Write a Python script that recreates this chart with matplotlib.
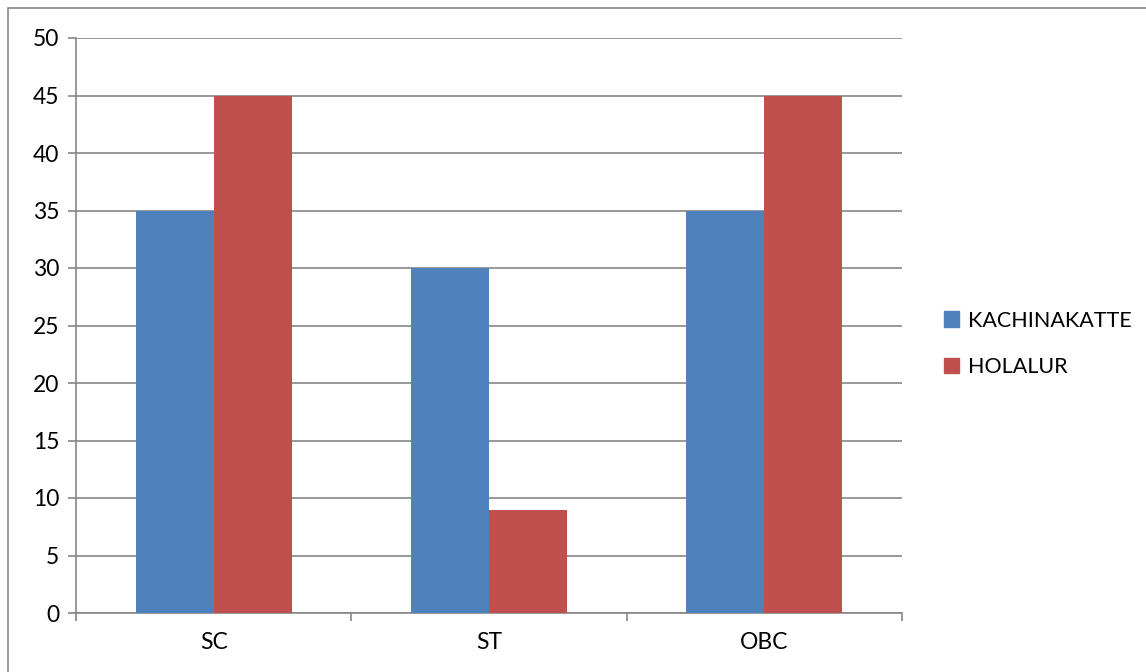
import matplotlib.pyplot as plt
import numpy as np
from matplotlib.patches import Rectangle, Patch

categories = ['SC', 'ST', 'OBC']
kachinakatte = [35, 30, 35]
holalur = [45, 9, 45]
series_names = ['KACHINAKATTE', 'HOLALUR']

blue = '#4F81BD'
red = '#C0504D'
grey = '#868686'

plt.rcParams['font.family'] = ['Lato', 'DejaVu Sans']

fig = plt.figure(figsize=(11.46, 6.72), dpi=100)
ax = fig.add_axes([76/1146, 1 - 613/672, (902 - 76)/1146, (613 - 38)/672])

x = np.arange(len(categories))
w = 0.283
ax.bar(x - w/2, kachinakatte, w, color=blue, zorder=3)
ax.bar(x + w/2, holalur, w, color=red, zorder=3)

ax.set_xlim(-0.5, 2.5)
ax.set_ylim(0, 50)
ax.set_yticks(np.arange(0, 51, 5))
ax.yaxis.grid(True, color=grey, linewidth=1.2, zorder=0)
ax.set_xticks(x)
ax.set_xticklabels(categories)
ax.set_xticks([-0.5, 0.5, 1.5, 2.5], minor=True)
ax.tick_params(axis='x', which='major', length=0, pad=14, labelsize=16.5)
ax.tick_params(axis='x', which='minor', length=6, color=grey, width=1.2)
ax.tick_params(axis='y', length=6, color=grey, width=1.2, pad=6, labelsize=16.5)
for side in ['top', 'right']:
    ax.spines[side].set_visible(False)
for side in ['left', 'bottom']:
    ax.spines[side].set_color(grey)
    ax.spines[side].set_linewidth(1.2)

handles = [Patch(color=blue), Patch(color=red)]
fig.legend(handles, series_names, loc='center left', bbox_to_anchor=(925/1146, 1 - 344/672),
           frameon=False, fontsize=15.5, handlelength=0.7, handleheight=0.7,
           handletextpad=0.4, labelspacing=1.25)

fig.patches.append(Rectangle((8/1146, -0.1), 1.2, 1 - 8/672 + 0.1, transform=fig.transFigure,
                             fill=False, edgecolor=grey, linewidth=1.2))

fig.savefig('out.png', dpi=100)
